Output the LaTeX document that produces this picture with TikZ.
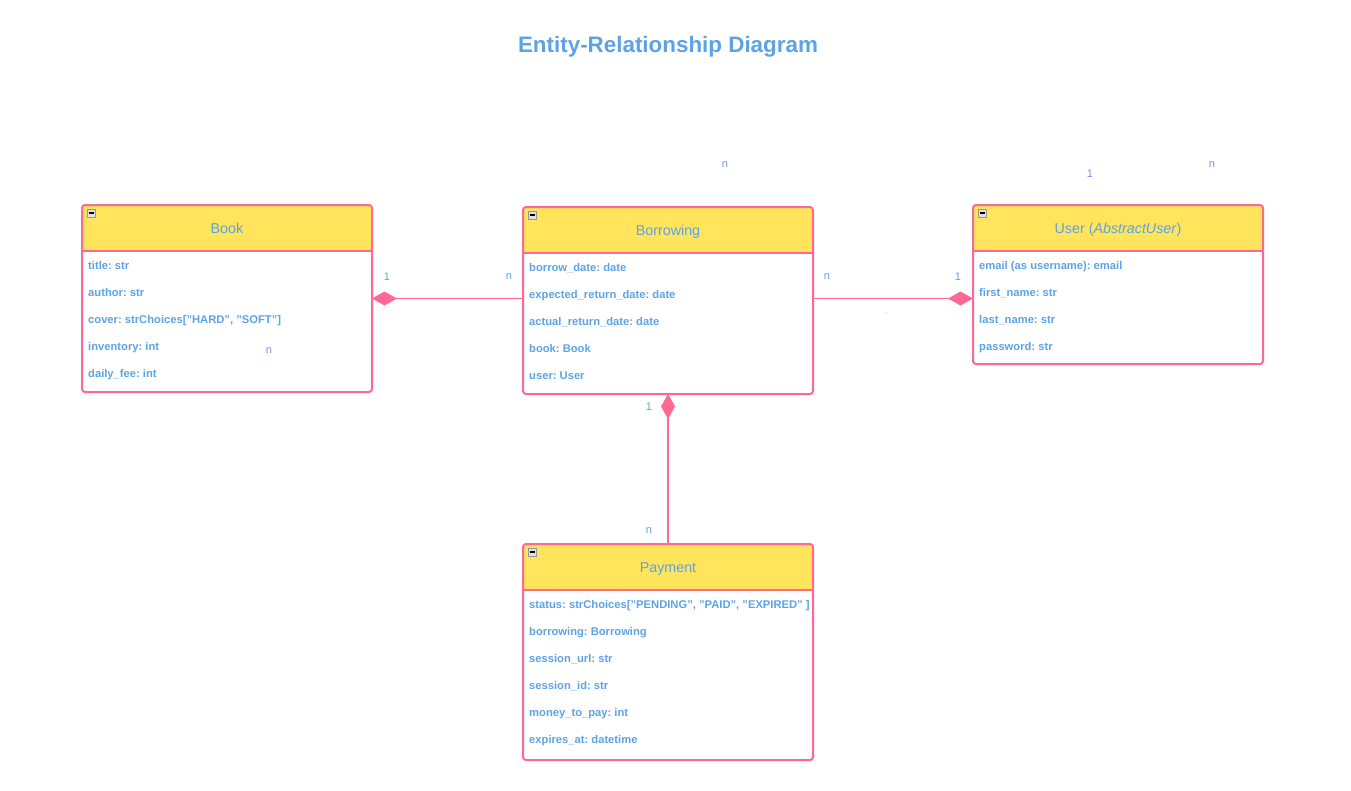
\documentclass[tikz,border=0pt]{standalone}
\usepackage{fontspec}
\setmainfont{Liberation Sans}
\usetikzlibrary{arrows.meta}
\definecolor{erpink}{RGB}{255,104,148}
\definecolor{eryellow}{RGB}{255,228,92}
\definecolor{erblue}{RGB}{92,163,230}
\definecolor{erstray}{RGB}{120,146,226}
\definecolor{icongray}{RGB}{150,150,150}
\definecolor{iconfill}{RGB}{225,225,225}
\newcommand\erquote{\symbol{34}}
\frenchspacing

\begin{document}
\begin{tikzpicture}[x=1pt, y=-1pt,
  frame/.style={draw=erpink, line width=2pt, rounded corners=3pt, minimum width=290pt, inner sep=0pt, outer sep=0pt, anchor=north},
  head/.style={fill=eryellow, rounded corners=2pt, minimum width=290pt, minimum height=46pt, inner sep=0pt, outer sep=0pt, anchor=north, text=erblue, font=\fontsize{14.3}{16}\selectfont, text height=10.3pt, text depth=0pt},
  divider/.style={draw=erpink, line width=2pt},
  attr/.style={anchor=west, inner sep=0pt, text=erblue, font=\fontsize{11.2}{13}\selectfont\bfseries, text height=8pt, text depth=0pt},
  card/.style={inner sep=0pt, text=erblue, font=\fontsize{11}{12}\selectfont},
  stray/.style={inner sep=0pt, text=erstray, font=\fontsize{11}{12}\selectfont},
  link/.style={draw=erpink, line width=1.1pt},
  erdiamond/.tip={Diamond[length=25pt, width=14pt, fill=erpink]},
  icon/.style={draw=icongray, fill=iconfill, line width=0.8pt}]
  \useasboundingbox (0,0) rectangle (1351,790);

  % TITRE
  \node[inner sep=0pt, text=erblue, font=\fontsize{22.4}{26}\selectfont\bfseries] (title) at (668,47) {Entity-Relationship Diagram};

  % ENTITE BOOK
  \node[head] (bookhead) at (227,205) {Book};
  \node[frame, minimum height=187pt] (book) at (227,205) {};
  \draw[divider] (bookhead.south west) -- (bookhead.south east);
  \draw[icon] ([shift={(5,4)}]bookhead.north west) rectangle ++(8,8);
  \draw[line width=1.5pt] ([shift={(6.5,8)}]bookhead.north west) -- ++(5,0);
  \foreach \a [count=\i from 0] in {title: str, author: str, {cover: strChoices[\erquote HARD\erquote, \erquote SOFT\erquote]}, inventory: int, daily\_fee: int}
    \node[attr] (book-\i) at (88,265+27*\i) {\a};

  % ENTITE BORROWING
  \node[head] (borrowinghead) at (668,207) {Borrowing};
  \node[frame, minimum height=187pt] (borrowing) at (668,207) {};
  \draw[divider] (borrowinghead.south west) -- (borrowinghead.south east);
  \draw[icon] ([shift={(5,4)}]borrowinghead.north west) rectangle ++(8,8);
  \draw[line width=1.5pt] ([shift={(6.5,8)}]borrowinghead.north west) -- ++(5,0);
  \foreach \a [count=\i from 0] in {borrow\_date: date, expected\_return\_date: date, actual\_return\_date: date, book: Book, user: User}
    \node[attr] (borrowing-\i) at (529,267+27*\i) {\a};

  % ENTITE USER
  \node[head] (userhead) at (1118,205) {User (\textit{AbstractUser})};
  \node[frame, minimum height=159pt] (user) at (1118,205) {};
  \draw[divider] (userhead.south west) -- (userhead.south east);
  \draw[icon] ([shift={(5,4)}]userhead.north west) rectangle ++(8,8);
  \draw[line width=1.5pt] ([shift={(6.5,8)}]userhead.north west) -- ++(5,0);
  \foreach \a [count=\i from 0] in {email (as username): email, first\_name: str, last\_name: str, password: str}
    \node[attr] (user-\i) at (979,265+27*\i) {\a};

  % ENTITE PAYMENT
  \node[head] (paymenthead) at (668,544) {Payment};
  \node[frame, minimum height=216pt] (payment) at (668,544) {};
  \draw[divider] (paymenthead.south west) -- (paymenthead.south east);
  \draw[icon] ([shift={(5,4)}]paymenthead.north west) rectangle ++(8,8);
  \draw[line width=1.5pt] ([shift={(6.5,8)}]paymenthead.north west) -- ++(5,0);
  \foreach \a [count=\i from 0] in {{status: strChoices[\erquote PENDING\erquote, \erquote PAID\erquote, \erquote EXPIRED\erquote{} ]}, borrowing: Borrowing, session\_url: str, session\_id: str, money\_to\_pay: int, expires\_at: datetime}
    \node[attr] (payment-\i) at (529,604+27*\i) {\a};

  % RELATIONS
  \draw[link, {erdiamond}-] (book.east) -- (book.east -| borrowing.west);
  \draw[link, -{erdiamond}] (book.east -| borrowing.east) -- (book.east -| user.west);
  \draw[link, {erdiamond}-] (borrowing.south) -- (payment.north);

  % CARDINALITES
  \node[card] (bookone) at (387,277) {1};
  \node[card] (borrowingbookn) at (509,277) {n};
  \node[card] (borrowingusern) at (827,277) {n};
  \node[card] (userone) at (958,277) {1};
  \node[card] (borrowingone) at (649,407) {1};
  \node[card] (paymentn) at (649,531) {n};

  % ETIQUETTES ISOLEES
  \node[stray] (strayA) at (725,165) {n};
  \node[stray] (strayB) at (1090,174) {1};
  \node[stray] (strayC) at (1212,165) {n};
  \node[stray] (strayD) at (269,351) {n};
  \node[stray, font=\fontsize{6}{6}\selectfont] (strayE) at (886,314) {'};
\end{tikzpicture}
\end{document}
